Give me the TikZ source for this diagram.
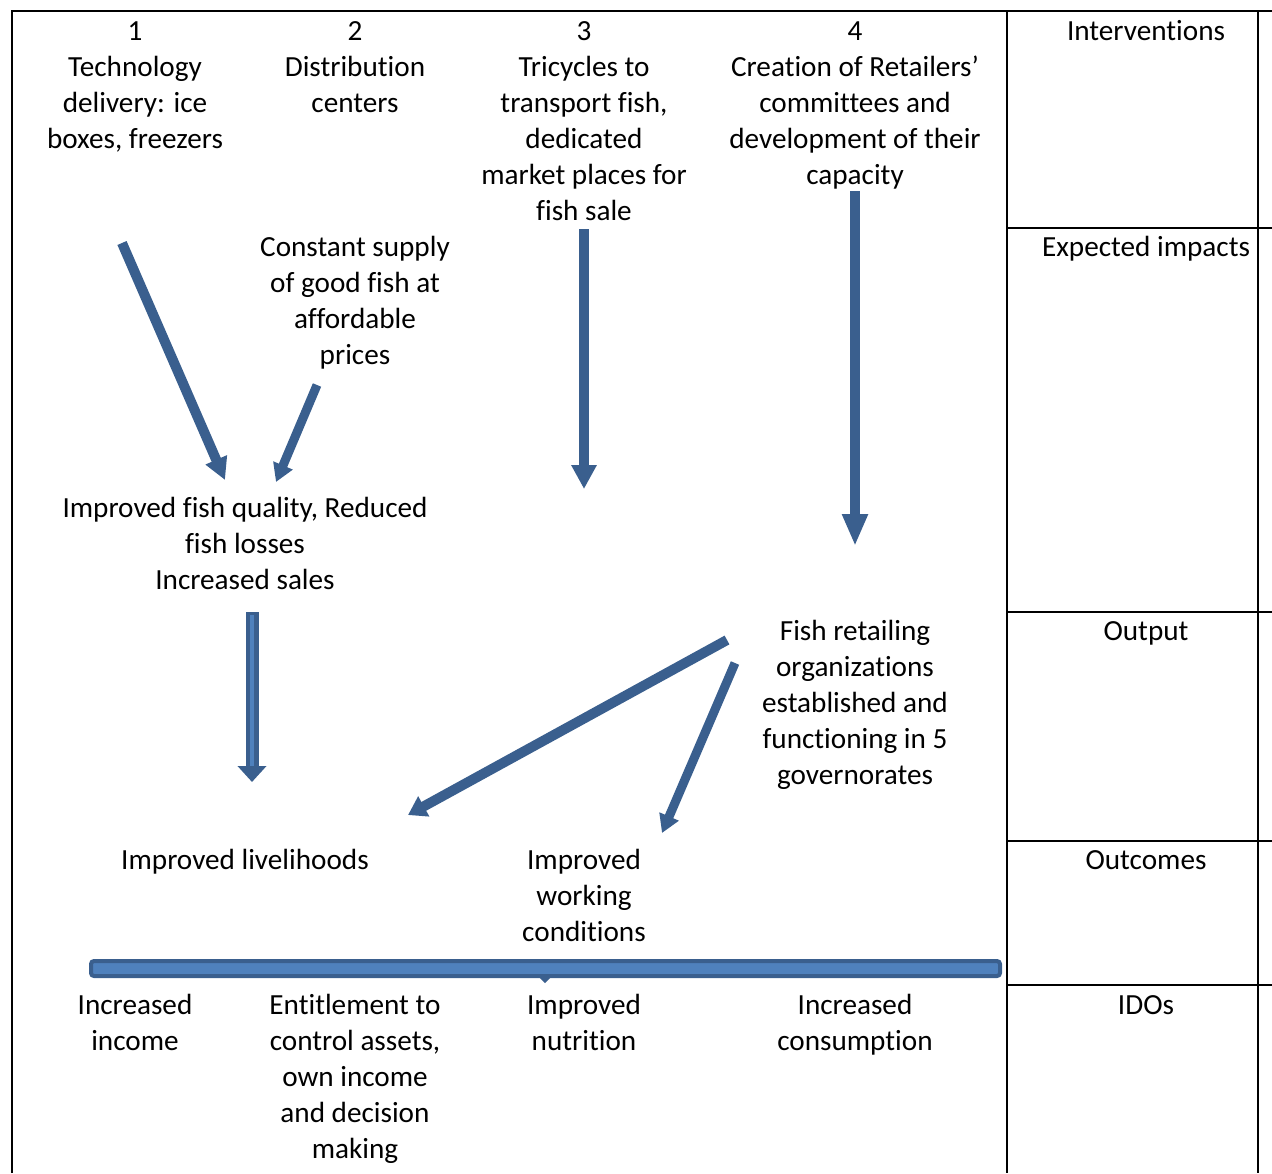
\documentclass[tikz,border=0pt]{standalone}
\usepackage{fontspec}
\setmainfont[Ligatures={NoCommon,NoRare,NoDiscretionary},Contextuals=NoAlternate]{Carlito}
\usetikzlibrary{arrows.meta}
\definecolor{adark}{HTML}{3A5F8E}
\definecolor{alight}{HTML}{4F81BD}
\begin{document}
\begin{tikzpicture}[x=0.5pt,y=-0.5pt,
  txt/.style={font=\fontsize{14.6}{18}\selectfont, align=center, inner sep=0pt, anchor=north},
  gridline/.style={line width=1.2pt, black},
  barrow/.style={draw=adark, line width=5pt, -{Triangle[width=12pt,length=12pt]}},
  stripe/.style={draw=alight, line width=1.6pt}]
\useasboundingbox (0,0) rectangle (1272,1173);
% table lines
\draw[gridline] (12,1173) -- (12,11) -- (1272,11);
\draw[gridline] (1007,11) -- (1007,1173);
\draw[gridline] (1258,11) -- (1258,1173);
\foreach \yy in {228,612,841,985} \draw[gridline] (1007,\yy) -- (1272,\yy);
% right column labels
\node[txt] (lint) at (1146,15) {\strut Interventions};
\node[txt] (limp) at (1146,231) {\strut Expected impacts};
\node[txt] (lout) at (1146,615) {\strut Output};
\node[txt] (loutc) at (1146,844) {\strut Outcomes};
\node[txt] (lido) at (1146,989) {\strut IDOs};
% interventions
\node[txt] (c1) at (135,15) {\strut 1\\Technology\\delivery: ice\\boxes, freezers};
\node[txt] (c2) at (355,15) {\strut 2\\Distribution\\centers};
\node[txt] (c3) at (584,15) {\strut 3\\Tricycles to\\transport fish,\\dedicated\\market places for\\fish sale};
\node[txt] (c4) at (855,15) {\strut 4\\Creation of Retailers’\\committees and\\development of their\\capacity};
% impacts
\node[txt] (supply) at (355,231) {\strut Constant supply\\of good fish at\\affordable\\prices};
\node[txt] (quality) at (245,492) {\strut Improved fish quality, Reduced\\fish losses\\Increased sales};
% output
\node[txt] (fishret) at (855,615) {\strut Fish retailing\\organizations\\established and\\functioning in 5\\governorates};
% outcomes
\node[txt] (livel) at (245,844) {\strut Improved livelihoods};
\node[txt] (work) at (584,844) {\strut Improved\\working\\conditions};
% IDOs
\node[txt] (inc) at (135,989) {\strut Increased\\income};
\node[txt] (ent) at (355,989) {\strut Entitlement to\\control assets,\\own income\\and decision\\making};
\node[txt] (nut) at (584,989) {\strut Improved\\nutrition};
\node[txt] (cons) at (855,989) {\strut Increased\\consumption};
% arrow end points
\coordinate (a1s) at (122,243); \coordinate (a1e) at (225,480);
\coordinate (a2s) at (317,385); \coordinate (a2e) at (276,482);
\coordinate (a3s) at (584,229); \coordinate (a3e) at (584,489);
\coordinate (a4s) at (855,191); \coordinate (a4e) at (855,546);
\coordinate (a5s) at (252,612); \coordinate (a5e) at (252,782);
\coordinate (a6s) at (727,640); \coordinate (a6e) at (408,815);
\coordinate (a7s) at (735,663); \coordinate (a7e) at (662,833);
% arrows
\draw[barrow, -{Triangle[width=11pt,length=11pt]}] (a1s) -- (a1e);
\draw[barrow, line width=4.5pt, -{Triangle[width=10pt,length=9pt]}] (a2s) -- (a2e);
\draw[barrow] (a3s) -- (a3e);
\draw[barrow, -{Triangle[width=12pt,length=16pt]}] (a4s) -- (a4e);
\draw[barrow, line width=6.5pt, -{Triangle[width=14pt,length=8pt]}] (a5s) -- (a5e);
\draw[stripe, shorten >=8pt, shorten <=1.5pt] (a5s) -- (a5e);
\draw[barrow, -{Triangle[width=11pt,length=9pt]}] (a6s) -- (a6e);
\draw[barrow, line width=4.5pt, -{Triangle[width=10pt,length=9pt]}] (a7s) -- (a7e);
% IDO bar
\fill[adark] (537,975) -- (553,975) -- (545,983) -- cycle;
\draw[draw=adark, fill=alight, line width=2pt, rounded corners=1.5pt] (91,961) rectangle (1000,976);
\end{tikzpicture}
\end{document}
